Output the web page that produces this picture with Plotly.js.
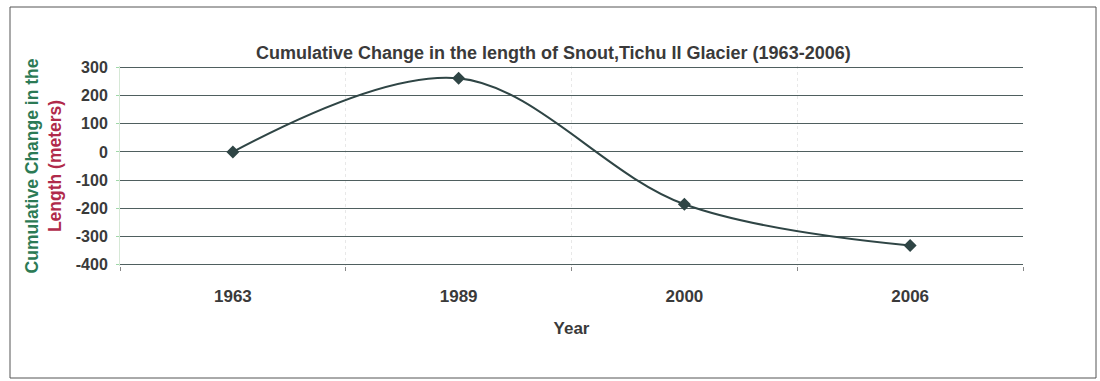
<!DOCTYPE html>
<html>
<head>
<meta charset="utf-8">
<script src="https://cdn.plot.ly/plotly-3.0.1.min.js"></script>
<style>
  html, body { margin: 0; padding: 0; background: #ffffff; }
  #chart { width: 1100px; height: 381px; }
</style>
</head>
<body>
<div id="chart"></div>
<script>
// Survey years (evenly spaced categories) and cumulative snout change in metres
const years = ["1963", "1989", "2000", "2006"];
const cumulativeChange = [0, 262, -186, -333];
const yTicks = [300, 200, 100, 0, -100, -200, -300, -400];

const lineColor = "#2f4545";
const textColor = "#3a3a3a";
const fontFamily = "'Liberation Sans', Arial, sans-serif";

const trace = {
  x: years,
  y: cumulativeChange,
  type: "scatter",
  mode: "lines+markers",
  line: { color: lineColor, width: 2, shape: "spline", smoothing: 1 },
  marker: { symbol: "diamond", size: 10, color: lineColor },
  hoverinfo: "x+y",
  showlegend: false
};

const layout = {
  width: 1100,
  height: 381,
  margin: { l: 120, r: 77, t: 66, b: 115 },
  paper_bgcolor: "#ffffff",
  plot_bgcolor: "#ffffff",
  font: { family: fontFamily, color: textColor },
  title: {
    text: "<b>Cumulative Change in the length of Snout,Tichu II Glacier (1963-2006)</b>",
    font: { size: 18, color: textColor, family: fontFamily },
    x: 0.503,
    xanchor: "center",
    y: 0.862,
    yanchor: "middle"
  },
  xaxis: {
    type: "category",
    range: [-0.5, 3.5],
    tickson: "boundaries",
    ticks: "outside",
    ticklen: 4,
    tickcolor: "#888888",
    ticklabelstandoff: 18,
    showgrid: true,
    gridcolor: "#e8e8e8",
    griddash: "dot",
    showline: false,
    zeroline: false,
    tickfont: { size: 17, color: textColor, family: fontFamily, weight: "bold" },
    title: {
      text: "<b>Year</b>",
      font: { size: 17, color: textColor, family: fontFamily },
      standoff: 17
    },
    fixedrange: true
  },
  yaxis: {
    // small padding keeps the 300 and -400 grid lines inside the plot area
    range: [-406, 306],
    tickvals: yTicks,
    ticktext: yTicks.map(String),
    ticks: "outside",
    ticklen: 3,
    tickcolor: "#9fd7a8",
    ticklabelstandoff: 5,
    showline: true,
    linecolor: "#d6e8d6",
    showgrid: true,
    gridcolor: "#4f5f5f",
    gridwidth: 1,
    zeroline: false,
    tickfont: { size: 16, color: textColor, family: fontFamily, weight: "bold" },
    title: {
      text: "<b><span style='color:#2c7a55'>Cumulative Change in the</span><br><span style='color:#b02a4a'>Length (meters)</span></b>",
      font: { size: 17.5, family: fontFamily },
      standoff: 9
    },
    fixedrange: true
  },
  shapes: [
    {
      // Outer chart frame
      type: "rect",
      xref: "paper", yref: "paper",
      x0: (10 - 120) / 903, x1: (1096 - 120) / 903,
      y0: (266 - 378) / 200, y1: (266 - 7) / 200,
      line: { color: "#555555", width: 1 },
      fillcolor: "rgba(0,0,0,0)",
      layer: "below"
    }
  ]
};

Plotly.newPlot("chart", [trace], layout, { staticPlot: true, displayModeBar: false });
</script>
</body>
</html>
